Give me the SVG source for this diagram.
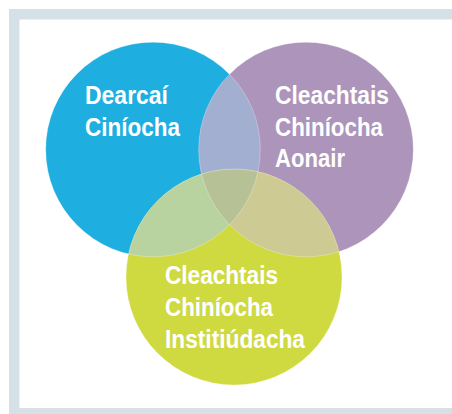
<svg xmlns="http://www.w3.org/2000/svg" width="452" height="414" viewBox="0 0 452 414">
<style>
.lbl{font-family:"Liberation Sans",Arial,sans-serif;font-weight:bold;font-size:26px;fill:#ffffff}
.edge{fill:none;stroke:#ffffff;stroke-opacity:0.35;stroke-width:0.8}
</style>
<defs>
<clipPath id="cB"><circle cx="153" cy="149.5" r="107.3"/></clipPath>
<clipPath id="cP"><circle cx="306" cy="149.5" r="107.3"/></clipPath>
<clipPath id="cG"><circle cx="234" cy="277" r="108"/></clipPath>
</defs>
<rect x="9" y="9" width="460" height="420" fill="#d5e0e7"/>
<rect x="19.5" y="19.5" width="450" height="388.5" fill="#ffffff"/>
<g id="blue">
<circle cx="153" cy="149.5" r="107.3" fill="#1eaee0"/>
</g>
<g id="purple">
<circle cx="306" cy="149.5" r="107.3" fill="#ad94ba"/>
</g>
<g id="green">
<circle cx="234" cy="277" r="108" fill="#cfd940"/>
</g>
<g id="overlaps">
<circle cx="306" cy="149.5" r="107.3" fill="#a3afd0" clip-path="url(#cB)"/>
<circle cx="234" cy="277" r="108" fill="#b9d3a0" clip-path="url(#cB)"/>
<circle cx="234" cy="277" r="108" fill="#cdca94" clip-path="url(#cP)"/>
<g clip-path="url(#cB)"><circle cx="234" cy="277" r="108" fill="#b6c296" clip-path="url(#cP)"/></g>
<circle class="edge" cx="153" cy="149.5" r="107.3"/>
<circle class="edge" cx="306" cy="149.5" r="107.3"/>
<circle class="edge" cx="234" cy="277" r="108"/>
</g>
<g id="labels">
<text class="lbl" x="85" y="104" textLength="83" lengthAdjust="spacingAndGlyphs">Dearcaí</text>
<text class="lbl" x="85" y="136" textLength="95" lengthAdjust="spacingAndGlyphs">Ciníocha</text>
<text class="lbl" x="275" y="104" textLength="114" lengthAdjust="spacingAndGlyphs">Cleachtais</text>
<text class="lbl" x="275" y="136" textLength="108" lengthAdjust="spacingAndGlyphs">Chiníocha</text>
<text class="lbl" x="275" y="167" textLength="70" lengthAdjust="spacingAndGlyphs">Aonair</text>
<text class="lbl" x="165" y="284" textLength="113" lengthAdjust="spacingAndGlyphs">Cleachtais</text>
<text class="lbl" x="165" y="316" textLength="108" lengthAdjust="spacingAndGlyphs">Chiníocha</text>
<text class="lbl" x="165" y="348" textLength="140" lengthAdjust="spacingAndGlyphs">Institiúdacha</text>
</g>
</svg>
